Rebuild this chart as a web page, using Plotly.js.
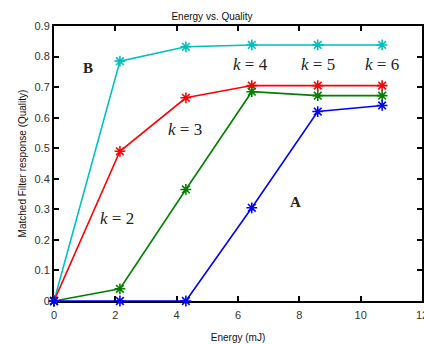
<!DOCTYPE html>
<html><head><meta charset="utf-8">
<script src="https://cdn.plot.ly/plotly-3.0.1.min.js"></script>
<style>html,body{margin:0;padding:0;background:#fff}#plot{width:424px;height:344px}</style>
</head><body><div id="plot"></div>
<script>
const energy = [0, 2.15, 4.3, 6.45, 8.6, 10.7];
const seriesCyan = [0, 0.785, 0.832, 0.838, 0.838, 0.838];
const seriesRed = [0, 0.49, 0.665, 0.705, 0.705, 0.705];
const seriesGreen = [0, 0.04, 0.365, 0.685, 0.672, 0.672];
const seriesBlue = [0, 0, 0, 0.305, 0.62, 0.64];
const colors = ['#00bfbf', '#ff0000', '#008000', '#0000ff'];
const series = [seriesCyan, seriesRed, seriesGreen, seriesBlue];
const labelTexts = ['<b>B</b>', '<i>k</i> = 4', '<i>k</i> = 5', '<i>k</i> = 6', '<i>k</i> = 3', '<i>k</i> = 2', '<b>A</b>'];
const labelX = [1.1, 6.4, 8.6, 10.7, 4.27, 2.05, 7.88];
const labelY = [0.762, 0.775, 0.775, 0.775, 0.562, 0.27, 0.325];

const traces = series.map((s, i) => ({
  x: energy, y: s, type: 'scatter', mode: 'lines+markers',
  line: {color: colors[i], width: 1.6},
  marker: {symbol: 'asterisk-open', size: 9, color: colors[i], line: {color: colors[i], width: 1.6}},
  cliponaxis: false, showlegend: false
}));

const annotations = labelTexts.map((t, i) => ({
  x: labelX[i], y: labelY[i], text: t, showarrow: false,
  font: {family: 'Liberation Serif, Times New Roman, serif', size: t.indexOf('<b>') === 0 ? 15 : 17, color: '#222'}
}));

const axisCommon = {
  showline: true, linecolor: '#000', linewidth: 2, mirror: 'ticks',
  ticks: 'inside', ticklen: 5, tickwidth: 2, tickcolor: '#000',
  showgrid: false, zeroline: false, layer: 'below traces',
  ticklabeloverflow: 'allow',
  tickfont: {family: 'Liberation Sans, Arial, sans-serif', size: 11, color: '#333'}
};

const layout = {
  width: 424, height: 344,
  margin: {l: 54, r: 2, t: 26, b: 43},
  paper_bgcolor: '#fff', plot_bgcolor: '#fff',
  title: {text: 'Energy vs. Quality', font: {family: 'Liberation Sans, Arial, sans-serif', size: 10, color: '#111'}, x: 0.5, xanchor: 'center', y: 0.953, yanchor: 'middle'},
  xaxis: Object.assign({}, axisCommon, {range: [0, 12], tickvals: [0, 2, 4, 6, 8, 10, 12], ticktext: ['0','2','4','6','8','10','12'],
    ticklabelstandoff: 3,
    title: {text: 'Energy (mJ)', font: {family: 'Liberation Sans, Arial, sans-serif', size: 10, color: '#111'}, standoff: 14}}),
  yaxis: Object.assign({}, axisCommon, {range: [0, 0.9], tickvals: [0,0.1,0.2,0.3,0.4,0.5,0.6,0.7,0.8,0.9], ticktext: ['0','0.1','0.2','0.3','0.4','0.5','0.6','0.7','0.8','0.9'],
    title: {text: 'Matched Filter response (Quality)', font: {family: 'Liberation Sans, Arial, sans-serif', size: 10, color: '#111'}, standoff: 6}}),
  annotations: annotations
};

Plotly.newPlot('plot', traces, layout, {displayModeBar: false, staticPlot: true});
</script></body></html>
